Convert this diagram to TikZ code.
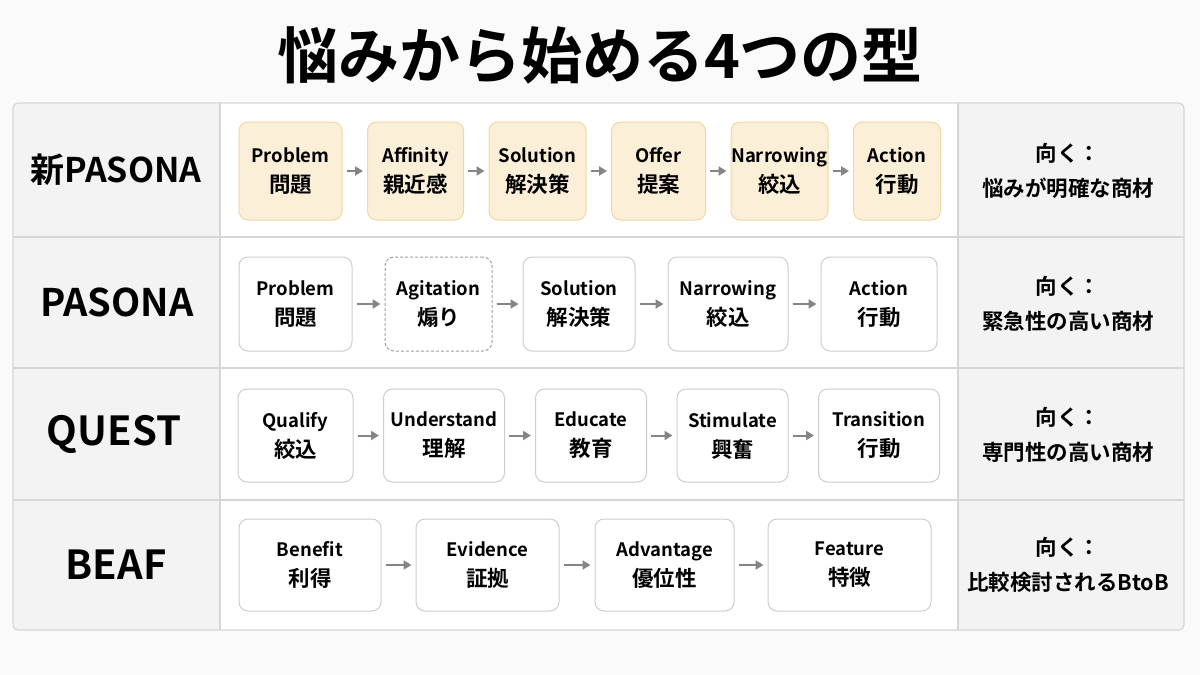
\documentclass[tikz,border=0pt]{standalone}
\usepackage{fontspec}
\setmainfont{Noto Sans CJK JP}[BoldFont=* Bold]
\usetikzlibrary{positioning,arrows.meta}

\definecolor{pagebg}{HTML}{FAFAFA}
\definecolor{cellgray}{HTML}{F3F3F3}
\definecolor{gridline}{HTML}{D6D6D6}
\definecolor{stageline}{HTML}{CDCDCD}
\definecolor{peach}{HTML}{FCEFD8}
\definecolor{peachline}{HTML}{F0D7A4}
\definecolor{arrowgray}{HTML}{858585}

\newcommand{\kanji}[1]{{\fontsize{21.5}{30}\selectfont #1}}

\tikzset{
    stage/.style={rectangle, rounded corners=9pt, draw=stageline, fill=white, line width=1pt, inner sep=0pt, align=center, font=\bfseries\fontsize{18.5}{30}\selectfont},
    new_stage/.style={stage, fill=peach, draw=peachline},
    dash_stage/.style={stage, draw=gray!75, dash pattern=on 3pt off 2pt},
    row_label/.style={font=\bfseries\fontsize{40}{40}\selectfont},
    fit_cell/.style={align=center, font=\bfseries\fontsize{21.5}{35}\selectfont},
    line/.style={-{Triangle[length=8pt,width=9pt]}, draw=arrowgray, line width=2pt, shorten >=4pt, shorten <=4pt},
}

\begin{document}
\begin{tikzpicture}[x=1pt,y=-1pt]

    % Page and table
    \fill[pagebg] (0,0) rectangle (1200,675);
    \fill[cellgray, rounded corners=5pt] (13,103) rectangle (1184,630);
    \fill[white] (220,103) rectangle (958,630);
    \draw[gridline, line width=1.2pt] (13,237) -- (1184,237) (13,368) -- (1184,368) (13,500) -- (1184,500);
    \draw[gridline, line width=1.2pt] (220,103) -- (220,630) (958,103) -- (958,630);
    \draw[gridline, line width=1.2pt, rounded corners=5pt] (13,103) rectangle (1184,630);

    % Title
    \node[font=\bfseries\fontsize{61}{61}\selectfont] (title) at (600,55) {悩みから始める4つの型};

    % Row labels
    \node[row_label, font=\bfseries\fontsize{34}{34}\selectfont] (newpasona) at (116,170) {新PASONA};
    \node[row_label, font=\bfseries\fontsize{38}{38}\selectfont] (pasona) at (117,302) {PASONA};
    \node[row_label] (quest) at (114,434) {QUEST};
    \node[row_label] (beaf) at (116,565) {BEAF};

    % New PASONA
    \begin{scope}[minimum height=98pt, node distance=24.5pt]
        \node[new_stage, minimum width=103pt] (np1) at (290.5,171) {Problem\\\kanji{問題}};
        \node[new_stage, minimum width=96pt, right=of np1] (np2) {Affinity\\\kanji{親近感}};
        \node[new_stage, minimum width=97pt, right=of np2] (np3) {Solution\\\kanji{解決策}};
        \node[new_stage, minimum width=94pt, right=of np3] (np4) {Offer\\\kanji{提案}};
        \node[new_stage, minimum width=97pt, right=of np4] (np5) {Narrowing\\\kanji{絞込}};
        \node[new_stage, minimum width=87pt, right=of np5] (np6) {Action\\\kanji{行動}};
    \end{scope}

    % PASONA
    \begin{scope}[minimum height=94pt, node distance=32pt]
        \node[stage, minimum width=113pt] (pa1) at (295.5,304) {Problem\\\kanji{問題}};
        \node[dash_stage, minimum width=107pt, right=of pa1] (pa2) {Agitation\\\kanji{煽り}};
        \node[stage, minimum width=112pt, right=30pt of pa2] (pa3) {Solution\\\kanji{解決策}};
        \node[stage, minimum width=120pt, right=of pa3] (pa4) {Narrowing\\\kanji{絞込}};
        \node[stage, minimum width=116pt, right=of pa4] (pa5) {Action\\\kanji{行動}};
    \end{scope}

    % QUEST
    \begin{scope}[minimum height=93pt, node distance=29.5pt]
        \node[stage, minimum width=115pt] (qu1) at (295.5,435.5) {Qualify\\\kanji{絞込}};
        \node[stage, minimum width=121pt, right=of qu1] (qu2) {Understand\\\kanji{理解}};
        \node[stage, minimum width=111pt, right=30pt of qu2] (qu3) {Educate\\\kanji{教育}};
        \node[stage, minimum width=111pt, right=of qu3] (qu4) {Stimulate\\\kanji{興奮}};
        \node[stage, minimum width=121pt, right=of qu4] (qu5) {Transition\\\kanji{行動}};
    \end{scope}

    % BEAF
    \begin{scope}[minimum height=92pt, node distance=34pt]
        \node[stage, minimum width=142pt] (be1) at (310,565) {Benefit\\\kanji{利得}};
        \node[stage, minimum width=143pt, right=of be1] (be2) {Evidence\\\kanji{証拠}};
        \node[stage, minimum width=139pt, right=35pt of be2] (be3) {Advantage\\\kanji{優位性}};
        \node[stage, minimum width=163pt, right=33pt of be3] (be4) {Feature\\\kanji{特徴}};
    \end{scope}

    % Suited for
    \node[fit_cell] (fitnp) at (1068,171) {向く：\\悩みが明確な商材};
    \node[fit_cell] (fitpa) at (1068,304) {向く：\\緊急性の高い商材};
    \node[fit_cell] (fitqu) at (1068,435) {向く：\\専門性の高い商材};
    \node[fit_cell] (fitbe) at (1068,565) {向く：\\比較検討されるBtoB};

    % Lines
    \draw[line] (np1) -- (np2);
    \draw[line] (np2) -- (np3);
    \draw[line] (np3) -- (np4);
    \draw[line] (np4) -- (np5);
    \draw[line] (np5) -- (np6);
    \draw[line] (pa1) -- (pa2);
    \draw[line] (pa2) -- (pa3);
    \draw[line] (pa3) -- (pa4);
    \draw[line] (pa4) -- (pa5);
    \draw[line] (qu1) -- (qu2);
    \draw[line] (qu2) -- (qu3);
    \draw[line] (qu3) -- (qu4);
    \draw[line] (qu4) -- (qu5);
    \draw[line] (be1) -- (be2);
    \draw[line] (be2) -- (be3);
    \draw[line] (be3) -- (be4);

\end{tikzpicture}
\end{document}
